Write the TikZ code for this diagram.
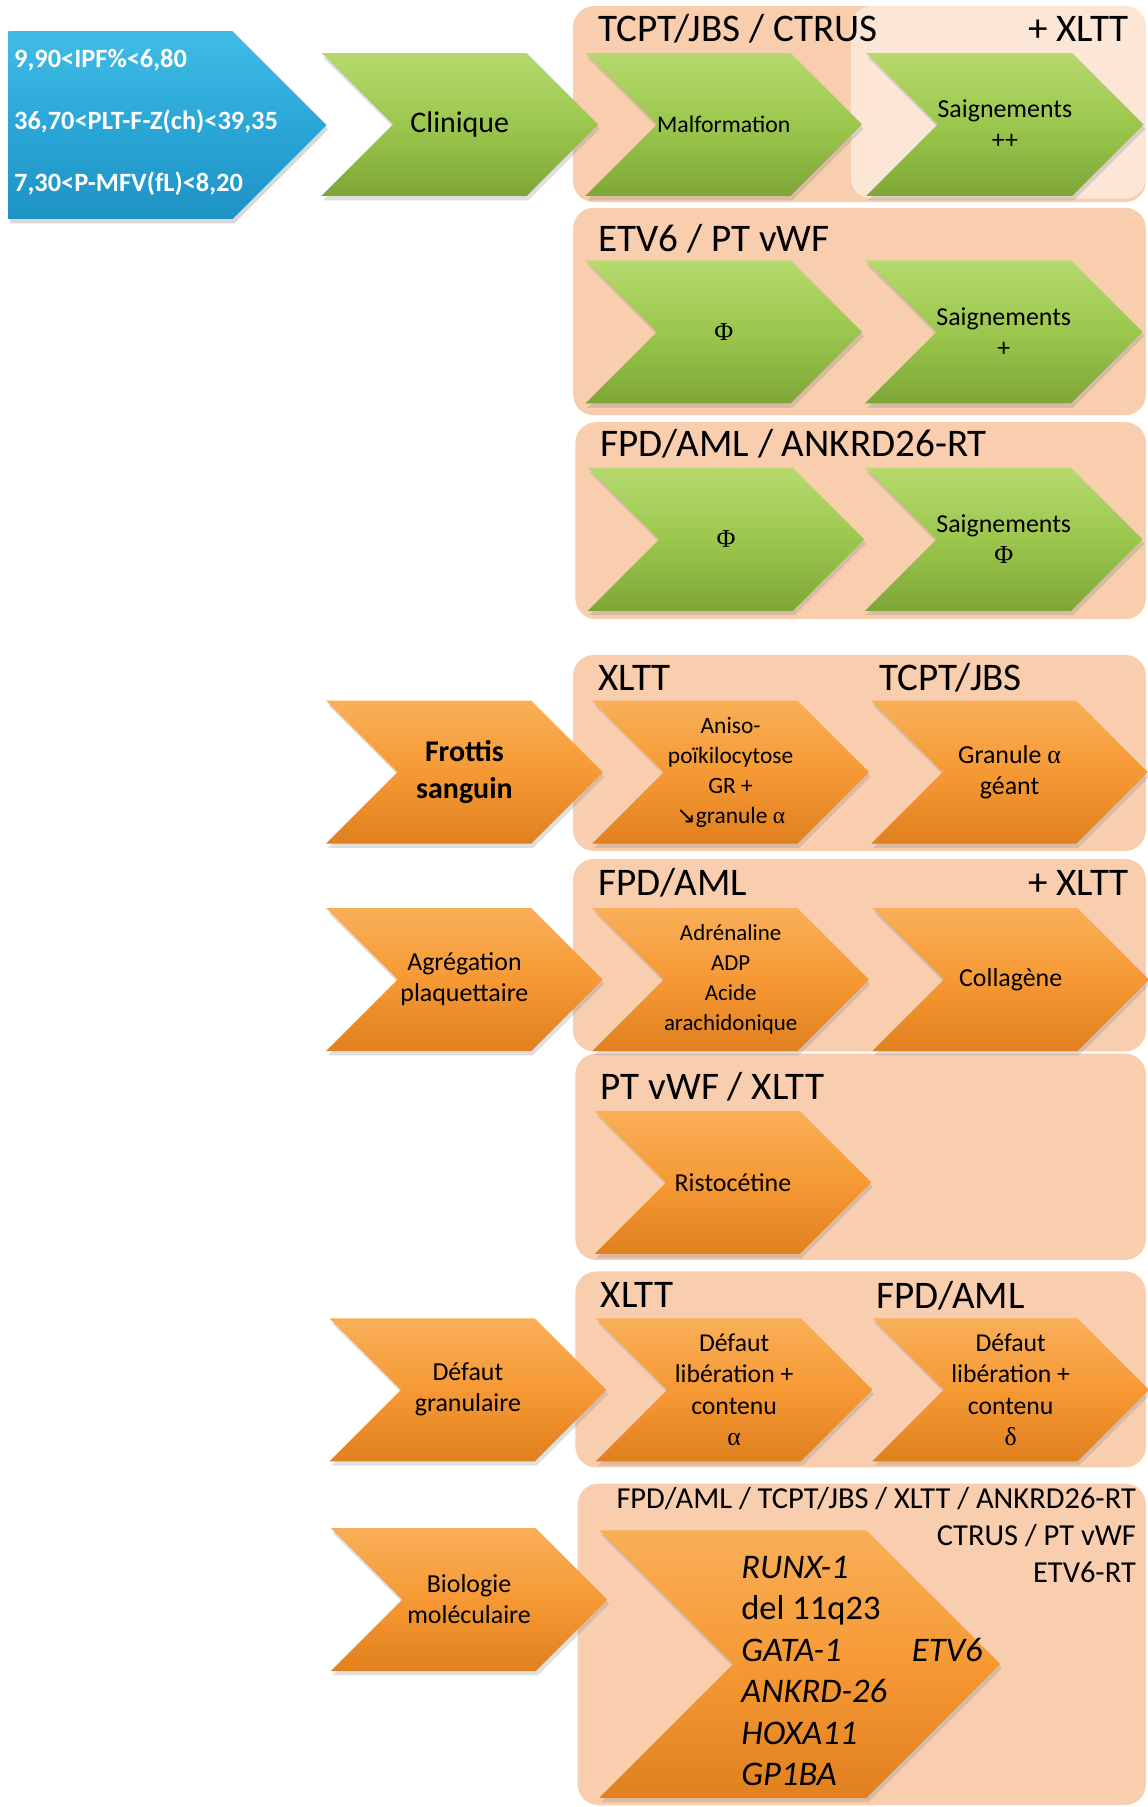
\documentclass[tikz,border=0pt]{standalone}
\usepackage{fontspec}
\setmainfont{Carlito}
\newfontfamily\symbfont{Liberation Serif}
\newfontfamily\arrfont{DejaVu Sans}
\usepackage{tikz}
\usetikzlibrary{shapes.symbols,shadows}

\definecolor{grtop}{HTML}{B6D96E}
\definecolor{grmid}{HTML}{9BC74D}
\definecolor{grbot}{HTML}{7EA637}
\definecolor{ortop}{HTML}{F9AF58}
\definecolor{ormid}{HTML}{F69934}
\definecolor{orbot}{HTML}{E0801F}
\definecolor{bltop}{HTML}{40BCE6}
\definecolor{blmid}{HTML}{2AA7D7}
\definecolor{blbot}{HTML}{1E92C4}
\definecolor{peach}{HTML}{F9CEAE}
\definecolor{peachlt}{HTML}{FCE7D7}

\newlength\px
\setlength\px{0.023cm}

\begin{document}
\begin{tikzpicture}[
  x=0.023cm, y=-0.023cm,
  chev/.style={signal, signal from=west, signal to=east, signal pointer angle=90,
    minimum width=240\px, minimum height=124\px, inner sep=0pt, align=center,
    drop shadow={opacity=0.25, shadow xshift=1pt, shadow yshift=-2.5pt},
    font=\fontsize{14.7}{17.6}\selectfont},
  grchev/.style={chev, top color=grtop, bottom color=grbot, middle color=grmid},
  orchev/.style={chev, top color=ortop, bottom color=orbot, middle color=ormid},
  panel/.style={rounded corners=18\px, fill=peach, anchor=north west, inner sep=0pt},
  lbl/.style={font=\fontsize{22.2}{26}\selectfont, inner sep=0pt},
  small/.style={font=\fontsize{13.3}{17}\selectfont},
]
  \fill[white] (0,0) rectangle (996,1568);
  \useasboundingbox (0,0) rectangle (996,1568);

  % background panels
  \node[panel, minimum width=497\px, minimum height=170\px] (boxA) at (497,5) {};
  \node[panel, fill=peachlt, minimum width=256\px, minimum height=167\px] (boxAlt) at (738,5) {};
  \node[panel, minimum width=497\px, minimum height=180\px] (boxB) at (497,180) {};
  \node[panel, minimum width=495\px, minimum height=171\px] (boxC) at (499,366) {};
  \node[panel, minimum width=497\px, minimum height=170\px] (boxD) at (497,568) {};
  \node[panel, minimum width=497\px, minimum height=167\px] (boxE) at (497,745) {};
  \node[panel, minimum width=495\px, minimum height=179\px] (boxF) at (499,914) {};
  \node[panel, minimum width=495\px, minimum height=170\px] (boxG) at (499,1103) {};
  \node[panel, minimum width=493\px, minimum height=279\px] (boxH) at (501,1287) {};

  % labels
  \node[lbl, anchor=west] (lblA) at (519,25) {TCPT/JBS / CTRUS};
  \node[lbl, anchor=east] (lblAx) at (980,25) {+ XLTT};
  \node[lbl, anchor=west] (lblB) at (519,207) {ETV6 / PT vWF};
  \node[lbl, anchor=west] (lblC) at (521,385) {FPD/AML / ANKRD26-RT};
  \node[lbl, anchor=west] (lblD) at (519,588) {XLTT};
  \node[lbl, anchor=west] (lblDx) at (763,588) {TCPT/JBS};
  \node[lbl, anchor=west] (lblE) at (519,766) {FPD/AML};
  \node[lbl, anchor=east] (lblEx) at (980,766) {+ XLTT};
  \node[lbl, anchor=west] (lblF) at (521,943) {PT vWF / XLTT};
  \node[lbl, anchor=west] (lblG) at (521,1124) {XLTT};
  \node[lbl, anchor=west] (lblGx) at (760,1124) {FPD/AML};
  \node[inner sep=0pt, align=right, anchor=east, font=\fontsize{17.3}{20.8}\selectfont] (lblH) at (986,1332)
    {FPD/AML / TCPT/JBS / XLTT / ANKRD26-RT\\CTRUS / PT vWF\\ETV6-RT};

  % blue box
  \node[signal, signal to=east, signal pointer angle=90, anchor=west,
    minimum width=276\px, minimum height=163\px, inner sep=0pt,
    top color=bltop, bottom color=blbot, middle color=blmid,
    drop shadow={opacity=0.3, shadow xshift=1pt, shadow yshift=-2.5pt}] (blue) at (7,108.5) {};
  \node[anchor=west, align=left, text=white, inner sep=0pt,
    font=\bfseries\fontsize{15}{35.3}\selectfont] (ranges) at (12,106)
    {9,90<IPF\%<6,80\\36,70<PLT-F-Z(ch)<39,35\\7,30<P-MFV(fL)<8,20};

  % green chevrons
  \node[grchev, font=\fontsize{17}{20}\selectfont] (clin) at (399,108) {Clinique};
  \node[grchev, font=\fontsize{13.5}{17}\selectfont] (malf) at (628,108) {Malformation};
  \node[grchev] (saigA) at (872,108) {Saignements\\++};
  \node[grchev] (phiB) at (628,288) {{\symbfont Φ}};
  \node[grchev] (saigB) at (871,288) {Saignements\\+};
  \node[grchev] (phiC) at (630,468) {{\symbfont Φ}};
  \node[grchev] (saigC) at (871,468) {Saignements\\{\symbfont Φ}};

  % orange chevrons
  \node[orchev, font=\bfseries\fontsize{17}{21}\selectfont] (frottis) at (403,670) {Frottis\\sanguin};
  \node[orchev, small] (aniso) at (634,670)
    {Aniso-\\poïkilocytose\\GR +\\{\arrfont ↘}granule {\symbfont α}};
  \node[orchev] (granule) at (876,670) {Granule {\symbfont α}\\géant};
  \node[orchev] (agreg) at (403,850) {Agrégation\\plaquettaire};
  \node[orchev, font=\fontsize{13}{17}\selectfont] (adren) at (634,850)
    {Adrénaline\\ADP\\Acide\\arachidonique};
  \node[orchev] (collag) at (877,850) {Collagène};
  \node[orchev] (risto) at (636,1026) {Ristocétine};
  \node[orchev] (defgran) at (406,1206) {Défaut\\granulaire};
  \node[orchev, font=\fontsize{14.6}{17.7}\selectfont] (deflibA) at (637,1206)
    {Défaut\\libération +\\contenu\\{\symbfont α}};
  \node[orchev, font=\fontsize{14.6}{17.7}\selectfont] (deflibD) at (877,1206)
    {Défaut\\libération +\\contenu\\{\symbfont δ}};
  \node[orchev] (biomol) at (407,1388) {Biologie\\moléculaire};
  \node[orchev, minimum width=348\px, minimum height=232\px] (bigchev) at (694,1444) {};
  \node[anchor=west, align=left, inner sep=0pt, font=\itshape\fontsize{19.6}{23.5}\selectfont] (genes) at (643,1450)
    {RUNX-1\\{\upshape del 11q23}\\GATA-1\\ANKRD-26\\HOXA11\\GP1BA};
  \node[inner sep=0pt, font=\itshape\fontsize{19.6}{23.5}\selectfont] (etv) at (822,1432) {ETV6};
\end{tikzpicture}
\end{document}
